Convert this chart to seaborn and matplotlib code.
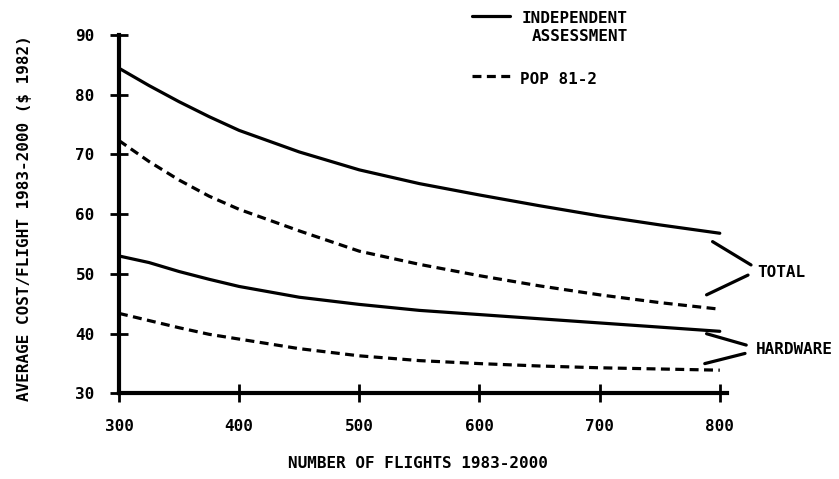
import numpy as np
import pandas as pd
import matplotlib.pyplot as plt
import seaborn as sns

# values
flights = [300, 325, 350, 375, 400, 450, 500, 550, 600, 650, 700, 750, 800]
ia_total = [84.4, 81.5, 78.8, 76.3, 74.0, 70.4, 67.4, 65.1, 63.2, 61.4, 59.7, 58.2, 56.8]
pop_total = [72.3, 68.8, 65.7, 63.0, 60.8, 57.2, 53.8, 51.6, 49.7, 48.0, 46.5, 45.2, 44.1]
ia_hardware = [53.0, 51.9, 50.4, 49.1, 47.9, 46.1, 44.9, 43.9, 43.2, 42.5, 41.8, 41.1, 40.4]
pop_hardware = [43.4, 42.2, 41.0, 39.9, 39.1, 37.5, 36.3, 35.5, 35.0, 34.6, 34.3, 34.1, 33.9]

x_ticks = [300, 400, 500, 600, 700, 800]
y_ticks = [30, 40, 50, 60, 70, 80, 90]

sources = ["INDEPENDENT ASSESSMENT", "POP 81-2"]

frames = []
for src, comp, vals in [
    (sources[0], "total", ia_total),
    (sources[1], "total", pop_total),
    (sources[0], "hardware", ia_hardware),
    (sources[1], "hardware", pop_hardware),
]:
    frames.append(pd.DataFrame({
        "flights": flights,
        "cost": vals,
        "source": src,
        "line": src + " " + comp,
    }))
data = pd.concat(frames, ignore_index=True)

sns.set_style("ticks")
plt.rcParams["font.family"] = ["DejaVu Sans Mono"]
plt.rcParams["font.weight"] = "bold"
plt.rcParams["text.color"] = "black"
plt.rcParams["axes.labelcolor"] = "black"

fig = plt.figure(figsize=(8.39, 4.79), dpi=100)
ax = fig.add_axes([0.1418, 0.1785, 0.7247, 0.749])

sns.lineplot(
    data=data, x="flights", y="cost",
    style="source", units="line", estimator=None,
    dashes={sources[0]: "", sources[1]: (2.8, 1.7)},
    color="black", linewidth=2.3, legend=False, ax=ax,
)

ax.set_xlim(300, 806)
ax.set_ylim(30, 90)
ax.set_xticks(x_ticks)
ax.set_yticks(y_ticks)
ax.tick_params(direction="inout", length=13, width=2, colors="black",
               labelsize=11.5, pad=11)
ax.tick_params(axis="x", pad=12)
for s in ["top", "right"]:
    ax.spines[s].set_visible(False)
for s in ["left", "bottom"]:
    ax.spines[s].set_linewidth(3)
    ax.spines[s].set_color("black")

ax.set_xlabel("NUMBER OF FLIGHTS 1983-2000", fontsize=11.5, fontweight="bold")
ax.set_ylabel("AVERAGE COST/FLIGHT 1983-2000 ($ 1982)", fontsize=11.5,
              fontweight="bold")
ax.xaxis.set_label_coords(0.491, -0.175)
ax.yaxis.set_label_coords(-0.143, 0.49)

# bracket annotations on the right
kw = dict(color="black", linewidth=2.3, clip_on=False)
ax.plot([794, 826], [55.4, 51.5], **kw)
ax.plot([789, 823.5], [46.5, 49.8], **kw)
ax.text(831, 50.2, "TOTAL", fontsize=11.5, va="center", ha="left")
ax.plot([789, 822], [40.0, 38.1], **kw)
ax.plot([787.5, 821], [35.0, 36.7], **kw)
ax.text(830, 37.3, "HARDWARE", fontsize=11.5, va="center", ha="left")

# legend at the top
fig.add_artist(plt.Line2D([0.562, 0.608], [0.967, 0.967], color="black",
                          linewidth=2.3))
fig.add_artist(plt.Line2D([0.562, 0.608], [0.841, 0.841], color="black",
                          linewidth=2.3, dashes=(2.8, 1.7)))
fig.text(0.622, 0.962, "INDEPENDENT", fontsize=11.5, va="center")
fig.text(0.634, 0.923, "ASSESSMENT", fontsize=11.5, va="center")
fig.text(0.620, 0.835, "POP 81-2", fontsize=11.5, va="center")

fig.savefig("out.png", dpi=100)
